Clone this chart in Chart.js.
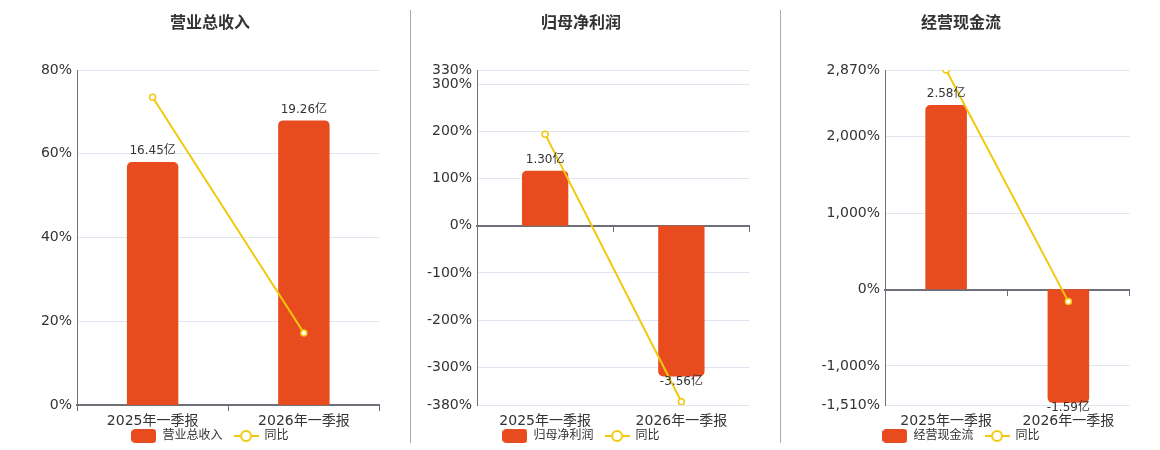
<!DOCTYPE html>
<html>
<head>
<meta charset="utf-8">
<script src="https://cdn.jsdelivr.net/npm/chart.js@4.4.0/dist/chart.umd.min.js"></script>
<style>
  body { margin: 0; background: #fff; width: 1160px; height: 450px; position: relative; overflow: hidden; }
  .panel { position: absolute; top: 0; height: 450px; }
  .divider { position: absolute; top: 10px; height: 433px; width: 1px; background: #aaa; }
</style>
</head>
<body>
<div class="panel" style="left:35px;width:350px"><canvas id="revenueChart"></canvas></div>
<div class="panel" style="left:407px;width:348px"><canvas id="profitChart"></canvas></div>
<div class="panel" style="left:787px;width:348px"><canvas id="cashChart"></canvas></div>
<div class="divider" style="left:410px"></div>
<div class="divider" style="left:780px"></div>

<script>
// categories shared by all three panels
const categories = ['2025年一季报', '2026年一季报'];

// 营业总收入 (亿) and 同比 (%)
const revenue = [16.45, 19.26];
const revenueYoy = [73.5, 17.2];
const revenueTicks = [0, 20, 40, 60, 80];
const revenueBarRange = [0, 22.67];

// 归母净利润
const profit = [1.30, -3.56];
const profitYoy = [194, -373];
const profitTicks = [-380, -300, -200, -100, 0, 100, 200, 300, 330];
const profitBarRange = [-4.234, 3.676];

// 经营现金流
const cashflow = [2.58, -1.59];
const cashflowYoy = [2870, -158];
const cashflowTicks = [-1510, -1000, 0, 1000, 2000, 2870];
const cashflowBarRange = [-1.62, 3.071];

const FONT = "'DejaVu Sans', 'Noto Sans CJK SC', sans-serif";
const BAR_COLOR = '#e84c1e';
const LINE_COLOR = '#f2c80f';
const AXIS_COLOR = '#6e7079';
const GRID_COLOR = '#e0e6f1';

// legend icons
function barIcon() {
    const c = document.createElement('canvas');
    c.width = 25; c.height = 14;
    const g = c.getContext('2d');
    g.fillStyle = BAR_COLOR;
    g.beginPath();
    g.roundRect(0, 0, 25, 14, 4);
    g.fill();
    return c;
}
function lineIcon() {
    const c = document.createElement('canvas');
    c.width = 25; c.height = 14;
    const g = c.getContext('2d');
    g.strokeStyle = LINE_COLOR;
    g.lineWidth = 2;
    g.beginPath();
    g.moveTo(0, 7); g.lineTo(25, 7);
    g.stroke();
    g.beginPath();
    g.arc(12.5, 7, 5, 0, Math.PI * 2);
    g.fillStyle = '#fff';
    g.fill();
    g.stroke();
    return c;
}
const icons = [barIcon(), lineIcon()];

// value labels above / below each bar
const barLabels = {
    id: 'barLabels',
    afterDatasetsDraw(chart) {
        const meta = chart.getDatasetMeta(0);
        const values = chart.data.datasets[0].data;
        const ctx = chart.ctx;
        ctx.save();
        ctx.font = '12px ' + FONT;
        ctx.fillStyle = '#333';
        ctx.textAlign = 'center';
        ctx.textBaseline = 'middle';
        meta.data.forEach((bar, i) => {
            const v = values[i];
            const y = v >= 0 ? bar.y - 11 : bar.y + 5;
            ctx.fillText(v.toFixed(2) + '亿', bar.x, y);
        });
        ctx.restore();
    }
};

// x axis keeps only 14px in the layout (legend sits close under it),
// but its label clip box is stretched back so the labels are not cut
const xLabelRoom = {
    id: 'xLabelRoom',
    afterLayout(chart) {
        const x = chart.scales.x;
        x.bottom = x.top + 24;
    }
};

function makeChart(id, title, bars, yoy, ticks, barRange, axisWidth) {
    const ctx = document.getElementById(id).getContext('2d');
    return new Chart(ctx, {
        type: 'bar',
        data: {
            labels: categories,
            datasets: [
                {
                    label: title,
                    data: bars,
                    yAxisID: 'y1',
                    backgroundColor: BAR_COLOR,
                    borderRadius: 5,
                    barPercentage: 0.34,
                    categoryPercentage: 1,
                    order: 2,
                },
                {
                    type: 'line',
                    label: '同比',
                    data: yoy,
                    yAxisID: 'y',
                    borderColor: LINE_COLOR,
                    borderWidth: 2,
                    pointRadius: 3,
                    pointBorderWidth: 1.5,
                    pointBackgroundColor: '#fff',
                    pointBorderColor: LINE_COLOR,
                    order: 1,
                },
            ],
        },
        options: {
            responsive: true,
            maintainAspectRatio: false,
            animation: false,
            layout: { padding: 0 },
            scales: {
                x: {
                    offset: true,
                    grid: { display: false, drawTicks: false },
                    border: { display: false },
                    ticks: { color: '#333', font: { size: 14, family: FONT }, padding: 8, maxRotation: 0 },
                    afterFit(scale) { scale.height = 14; },
                },
                x2: {
                    type: 'category',
                    labels: categories,
                    position: { y: 0 },
                    offset: true,
                    grid: { display: true, offset: true, drawOnChartArea: false, tickLength: 5, color: AXIS_COLOR, lineWidth: 1 },
                    border: { display: true, color: AXIS_COLOR, width: 2 },
                    ticks: { display: false },
                    afterFit(scale) { scale.height = 0; },
                },
                y: {
                    min: ticks[0],
                    max: ticks[ticks.length - 1],
                    grid: { color: GRID_COLOR, drawTicks: false },
                    border: { display: true, color: AXIS_COLOR, width: 1 },
                    ticks: {
                        autoSkip: false,
                        padding: 5,
                        color: '#333',
                        font: { size: 14, family: FONT },
                        callback: v => v.toLocaleString('en-US') + '%',
                    },
                    afterBuildTicks(scale) { scale.ticks = ticks.map(v => ({ value: v })); },
                    afterFit(scale) { scale.width = axisWidth; },
                },
                y1: {
                    display: false,
                    min: barRange[0],
                    max: barRange[1],
                },
            },
            plugins: {
                title: {
                    display: true,
                    text: title,
                    color: '#333',
                    font: { size: 16, weight: 'bold', family: FONT },
                    padding: { top: 14, bottom: 36.8 },
                },
                legend: {
                    position: 'bottom',
                    maxHeight: 31,
                    labels: {
                        usePointStyle: true,
                        pointStyleWidth: 25,
                        boxHeight: 14,
                        padding: 11,
                        color: '#333',
                        font: { size: 12, family: FONT },
                        generateLabels(chart) {
                            const items = Chart.defaults.plugins.legend.labels.generateLabels(chart);
                            items.sort((a, b) => a.datasetIndex - b.datasetIndex);
                            items.forEach(it => { it.pointStyle = icons[it.datasetIndex]; });
                            return items;
                        },
                    },
                },
                tooltip: { enabled: false },
            },
        },
        plugins: [barLabels, xLabelRoom],
    });
}

makeChart('revenueChart', '营业总收入', revenue, revenueYoy, revenueTicks, revenueBarRange, 42);
makeChart('profitChart', '归母净利润', profit, profitYoy, profitTicks, profitBarRange, 70);
makeChart('cashChart', '经营现金流', cashflow, cashflowYoy, cashflowTicks, cashflowBarRange, 98);
</script>
</body>
</html>
